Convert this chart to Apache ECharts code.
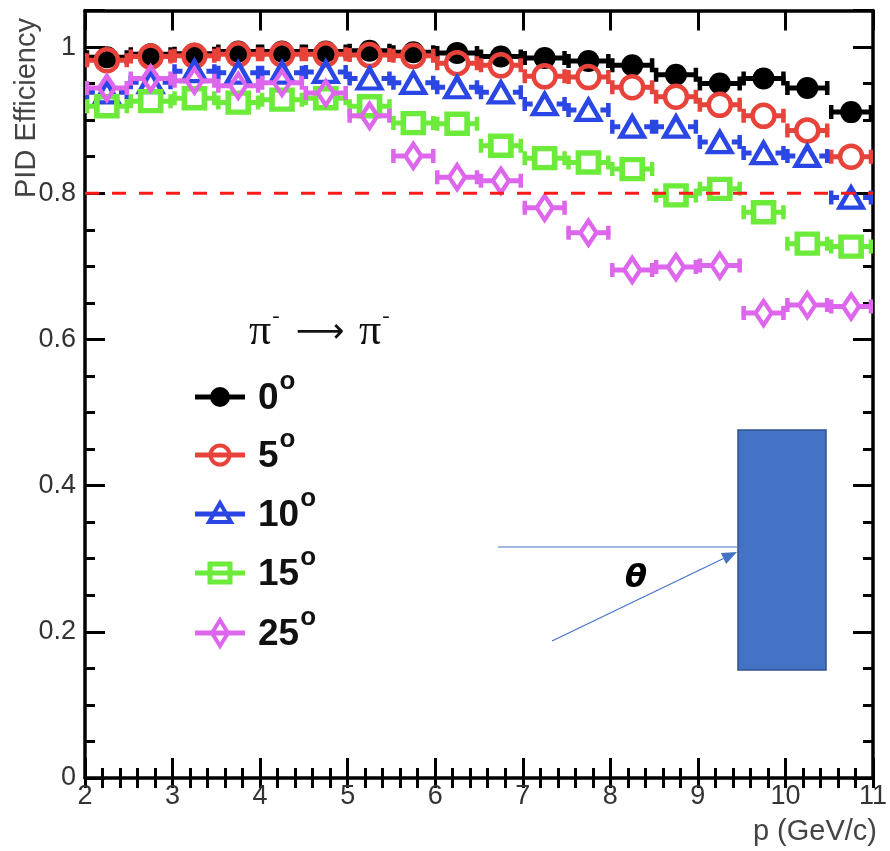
<!DOCTYPE html>
<html>
<head>
<meta charset="utf-8">
<script src="https://cdn.jsdelivr.net/npm/echarts@6/dist/echarts.min.js"></script>
<style>html,body{margin:0;padding:0;background:#fff}#c{width:890px;height:851px}</style>
</head>
<body>
<div id="c"></div>
<script>
// ---- data ----
var pCenters = [2.25, 2.75, 3.25, 3.75, 4.25, 4.75, 5.25, 5.75, 6.25, 6.75, 7.25, 7.75, 8.25, 8.75, 9.25, 9.75, 10.25, 10.75];
var binHalfWidth = 0.25;
var eff0  = [0.986, 0.990, 0.991, 0.994, 0.994, 0.994, 0.995, 0.993, 0.992, 0.987, 0.985, 0.981, 0.975, 0.962, 0.950, 0.957, 0.944, 0.911];
var eff5  = [0.982, 0.987, 0.988, 0.990, 0.990, 0.990, 0.989, 0.988, 0.978, 0.975, 0.960, 0.959, 0.945, 0.932, 0.921, 0.906, 0.886, 0.850];
var eff10 = [0.938, 0.952, 0.967, 0.965, 0.965, 0.966, 0.957, 0.951, 0.945, 0.938, 0.922, 0.914, 0.891, 0.891, 0.870, 0.855, 0.851, 0.794];
var eff15 = [0.919, 0.926, 0.930, 0.924, 0.928, 0.930, 0.919, 0.896, 0.895, 0.865, 0.848, 0.842, 0.833, 0.797, 0.806, 0.774, 0.731, 0.727];
var eff25 = [0.944, 0.957, 0.954, 0.947, 0.951, 0.937, 0.906, 0.851, 0.822, 0.817, 0.780, 0.746, 0.695, 0.699, 0.701, 0.636, 0.647, 0.645];
var seriesNames = ['0', '5', '10', '15', '25'];
var thresholdLine = 0.8;
var xTicks = [2, 3, 4, 5, 6, 7, 8, 9, 10, 11];
var yTicks = [0, 0.2, 0.4, 0.6, 0.8, 1];

// ---- styles ----
var colors = ['#000000', '#e8433b', '#2a46e4', '#6ceb3a', '#dd66ec'];
var FONT = 'Liberation Sans, Helvetica, Arial, sans-serif';
var markerDefs = [
  {symbol: 'circle', size: 22, fill: true, gap: 0, bw: 0},
  {symbol: 'circle', size: 22, fill: false, gap: 12, bw: 4.5},
  {symbol: 'triangle', size: [23, 20], fill: false, gap: 12, bw: 4.5},
  {symbol: 'rect', size: [20, 19], fill: false, gap: 11, bw: 5.5},
  {symbol: 'diamond', size: [16, 24], fill: false, gap: 9, bw: 4.5}
];
var allEff = [eff0, eff5, eff10, eff15, eff25];

function pairs(arr) { return pCenters.map(function (x, i) { return [x, arr[i]]; }); }

var series = [];
allEff.forEach(function (arr, k) {
  var col = colors[k], md = markerDefs[k];
  series.push({
    type: 'custom', name: seriesNames[k] + '_err', z: 2 + k * 2, silent: true,
    data: pairs(arr),
    renderItem: function (params, api) {
      var x = api.value(0), y = api.value(1);
      var L = api.coord([x - binHalfWidth, y]);
      var R = api.coord([x + binHalfWidth, y]);
      var C = api.coord([x, y]);
      var st = {stroke: col, lineWidth: 5};
      var cap = {stroke: col, lineWidth: 4.5};
      var ch = [
        {type: 'line', shape: {x1: L[0], y1: L[1], x2: C[0] - md.gap, y2: C[1]}, style: st},
        {type: 'line', shape: {x1: C[0] + md.gap, y1: C[1], x2: R[0], y2: R[1]}, style: st},
        {type: 'line', shape: {x1: L[0] + 2, y1: L[1] - 7, x2: L[0] + 2, y2: L[1] + 7}, style: cap},
        {type: 'line', shape: {x1: R[0] - 2, y1: R[1] - 7, x2: R[0] - 2, y2: R[1] + 7}, style: cap}
      ];
      return {type: 'group', children: ch};
    },
    clip: true
  });
  series.push({
    type: 'scatter', name: seriesNames[k], z: 3 + k * 2,
    data: pairs(arr),
    symbol: md.symbol, symbolSize: md.size,
    itemStyle: md.fill ? {color: col, opacity: 1} : {color: 'rgba(255,255,255,0)', borderColor: col, borderWidth: md.bw, opacity: 1},
    emphasis: {disabled: true}
  });
});
series.push({
  type: 'line', name: 'threshold', z: 20, silent: true,
  data: [[xTicks[0], thresholdLine], [xTicks[xTicks.length - 1], thresholdLine]],
  symbol: 'none', lineStyle: {color: '#ff1a1a', width: 3, type: [14, 13]}
});

function tickAxis(base, extra) { return Object.assign({}, base, extra); }
var xBase = {type: 'value', min: 2, max: 11, splitLine: {show: false}, offset: 0};
var yBase = {type: 'value', min: 0, max: 1.05, splitLine: {show: false}, offset: 0};
var thickLine = {show: true, onZero: false, lineStyle: {color: '#000', width: 3.5}};
var noLine = {show: false};

var option = {
  animation: false,
  backgroundColor: '#fff',
  grid: {left: 85, right: 14, top: 10.5, bottom: 73, containLabel: false},
  xAxis: [
    tickAxis(xBase, {position: 'bottom', interval: 1, axisLine: thickLine,
      axisTick: {inside: true, length: 20, lineStyle: {color: '#000', width: 3}},
      axisLabel: {fontSize: 27, color: '#333', fontFamily: FONT, margin: 5}}),
    tickAxis(xBase, {position: 'bottom', interval: 0.2, axisLine: noLine,
      axisTick: {inside: true, length: 10, lineStyle: {color: '#000', width: 3}}, axisLabel: {show: false}}),
    tickAxis(xBase, {position: 'top', interval: 1, axisLine: thickLine,
      axisTick: {inside: true, length: 20, lineStyle: {color: '#000', width: 3}}, axisLabel: {show: false}}),
    tickAxis(xBase, {position: 'top', interval: 0.2, axisLine: noLine,
      axisTick: {inside: true, length: 10, lineStyle: {color: '#000', width: 3}}, axisLabel: {show: false}})
  ],
  yAxis: [
    tickAxis(yBase, {position: 'left', interval: 0.2, axisLine: thickLine,
      axisTick: {inside: true, length: 20, lineStyle: {color: '#000', width: 3}},
      axisLabel: {fontSize: 27, color: '#333', fontFamily: FONT, margin: 9,
        formatter: function (v) {
          for (var i = 0; i < yTicks.length; i++) if (Math.abs(v - yTicks[i]) < 1e-6) return String(yTicks[i]);
          return '';
        }}}),
    tickAxis(yBase, {position: 'left', interval: 0.05, axisLine: noLine,
      axisTick: {inside: true, length: 10, lineStyle: {color: '#000', width: 3}}, axisLabel: {show: false}}),
    tickAxis(yBase, {position: 'right', interval: 0.2, axisLine: thickLine,
      axisTick: {inside: true, length: 20, lineStyle: {color: '#000', width: 3}}, axisLabel: {show: false}}),
    tickAxis(yBase, {position: 'right', interval: 0.05, axisLine: noLine,
      axisTick: {inside: true, length: 10, lineStyle: {color: '#000', width: 3}}, axisLabel: {show: false}})
  ],
  series: series
};

// ---- legend & annotations (graphic) ----
var measureCtx = document.createElement('canvas').getContext('2d');
function textW(str, font) { measureCtx.font = font; return measureCtx.measureText(str).width; }

var legendY = [397, 455, 514, 573, 633];
var g = [];
function markerShape(k, cx, cy) {
  var col = colors[k];
  var hollow = {fill: 'none', stroke: col, lineWidth: 4};
  if (k === 0) return {type: 'circle', shape: {cx: cx, cy: cy, r: 10}, style: {fill: col}, z: 101};
  if (k === 1) return {type: 'circle', shape: {cx: cx, cy: cy, r: 9.5}, style: hollow, z: 101};
  if (k === 2) return {type: 'polygon', shape: {points: [[cx, cy - 11], [cx + 11, cy + 8], [cx - 11, cy + 8]]}, style: hollow, z: 101};
  if (k === 3) return {type: 'rect', shape: {x: cx - 10, y: cy - 9, width: 20, height: 18}, style: {fill: 'none', stroke: col, lineWidth: 5}, z: 101};
  return {type: 'polygon', shape: {points: [[cx, cy - 13], [cx + 8, cy], [cx, cy + 13], [cx - 8, cy]]}, style: hollow, z: 101};
}
var legFont = 'bold 37px Liberation Sans, Arial, sans-serif';
var supFont = 'bold 26px Liberation Sans, Arial, sans-serif';
seriesNames.forEach(function (nm, k) {
  var y = legendY[k];
  g.push({type: 'line', shape: {x1: 195, y1: y, x2: 245, y2: y}, style: {stroke: colors[k], lineWidth: 5}, z: 100});
  g.push(markerShape(k, 220, y));
  g.push({type: 'text', x: 258, y: y + 2, z: 100, style: {
    text: nm, font: legFont, fill: '#111', textAlign: 'left', textVerticalAlign: 'middle'}});
  g.push({type: 'text', x: 258 + textW(nm, legFont) + 1, y: y - 15, z: 100, style: {
    text: 'o', font: supFont, fill: '#111', textAlign: 'left', textVerticalAlign: 'middle'}});
});
// reaction label: pi- -> pi-
var piFont = '44px Liberation Serif, Times New Roman, serif';
var minusFont = '22px Liberation Serif, serif';
g.push({type: 'text', x: 249, y: 332, z: 100, style: {text: 'π', font: piFont, fill: '#111', textVerticalAlign: 'middle'}});
g.push({type: 'text', x: 249 + textW('π', piFont) + 1, y: 316, z: 100, style: {text: '-', font: minusFont, fill: '#111', textVerticalAlign: 'middle'}});
g.push({type: 'text', x: 320, y: 333, z: 100, style: {text: '⟶', font: '34px DejaVu Sans, sans-serif', fill: '#111', textAlign: 'center', textVerticalAlign: 'middle'}});
g.push({type: 'text', x: 359, y: 332, z: 100, style: {text: 'π', font: piFont, fill: '#111', textVerticalAlign: 'middle'}});
g.push({type: 'text', x: 359 + textW('π', piFont) + 1, y: 316, z: 100, style: {text: '-', font: minusFont, fill: '#111', textVerticalAlign: 'middle'}});
// axis titles
g.push({type: 'text', x: 27, y: 108, rotation: Math.PI / 2, z: 100, style: {
  text: 'PID Efficiency', font: '29px ' + FONT, fill: '#444', textAlign: 'center', textVerticalAlign: 'middle'}});
g.push({type: 'text', x: 877, y: 832, z: 100, style: {
  text: 'p (GeV/c)', font: '29px ' + FONT, fill: '#444', textAlign: 'right', textVerticalAlign: 'middle'}});
// inset diagram
g.push({type: 'rect', shape: {x: 738, y: 430, width: 88, height: 240}, style: {fill: '#4472C4', stroke: '#2F528F', lineWidth: 1.5}, z: 100});
g.push({type: 'line', shape: {x1: 498, y1: 547, x2: 737, y2: 547}, style: {stroke: '#4472C4', lineWidth: 1.2}, z: 100});
(function () {
  var x1 = 552, y1 = 641, x2 = 737, y2 = 552;
  var dx = x2 - x1, dy = y2 - y1, len = Math.sqrt(dx * dx + dy * dy);
  var ux = dx / len, uy = dy / len, px = -uy, py = ux;
  var hl = 15, hw = 6;
  var bx = x2 - ux * hl, by = y2 - uy * hl;
  g.push({type: 'line', shape: {x1: x1, y1: y1, x2: bx, y2: by}, style: {stroke: '#4472C4', lineWidth: 1.2}, z: 100});
  g.push({type: 'polygon', shape: {points: [[x2, y2], [bx + px * hw, by + py * hw], [bx - px * hw, by - py * hw]]}, style: {fill: '#4472C4'}, z: 100});
})();
g.push({type: 'text', x: 636, y: 579, z: 100, style: {
  text: 'θ', font: 'italic bold 32px DejaVu Sans, sans-serif', fill: '#000', textAlign: 'center', textVerticalAlign: 'middle'}});
option.graphic = {elements: g};

var chart = echarts.init(document.getElementById('c'), null, {renderer: 'canvas'});
chart.setOption(option);
</script>
</body>
</html>
